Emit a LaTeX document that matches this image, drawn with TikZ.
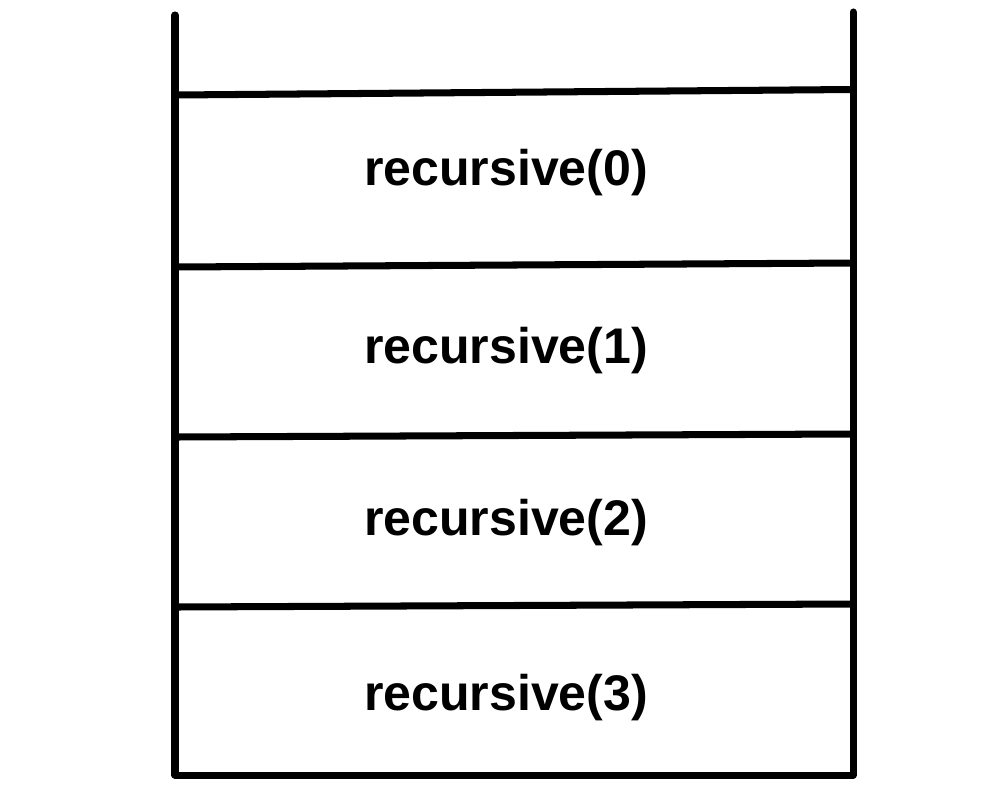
\documentclass[tikz,border=0pt]{standalone}
\usepackage{fontspec}
\setmainfont{Liberation Sans}

\begin{document}
\begin{tikzpicture}[x=0.02cm, y=-0.02cm, line width=4pt, line cap=round, line join=round]
\useasboundingbox (0,0) rectangle (1006,808);

% Create the stack walls
\draw (175,15) -- (175,775) -- (853,775) -- (853,12);

% Create the frame separators
\foreach \l/\r in {95/89.5, 267/263, 437/434, 607/604}
  \draw (175,\l) -- (853,\r);

% Label the frames
\foreach \y [count=\i from 0] in {173,351,523,698}
  \node [font=\fontsize{28.5}{34}\selectfont\bfseries] (frame-\i) at (506,\y) {recursive(\i)};

\end{tikzpicture}
\end{document}
